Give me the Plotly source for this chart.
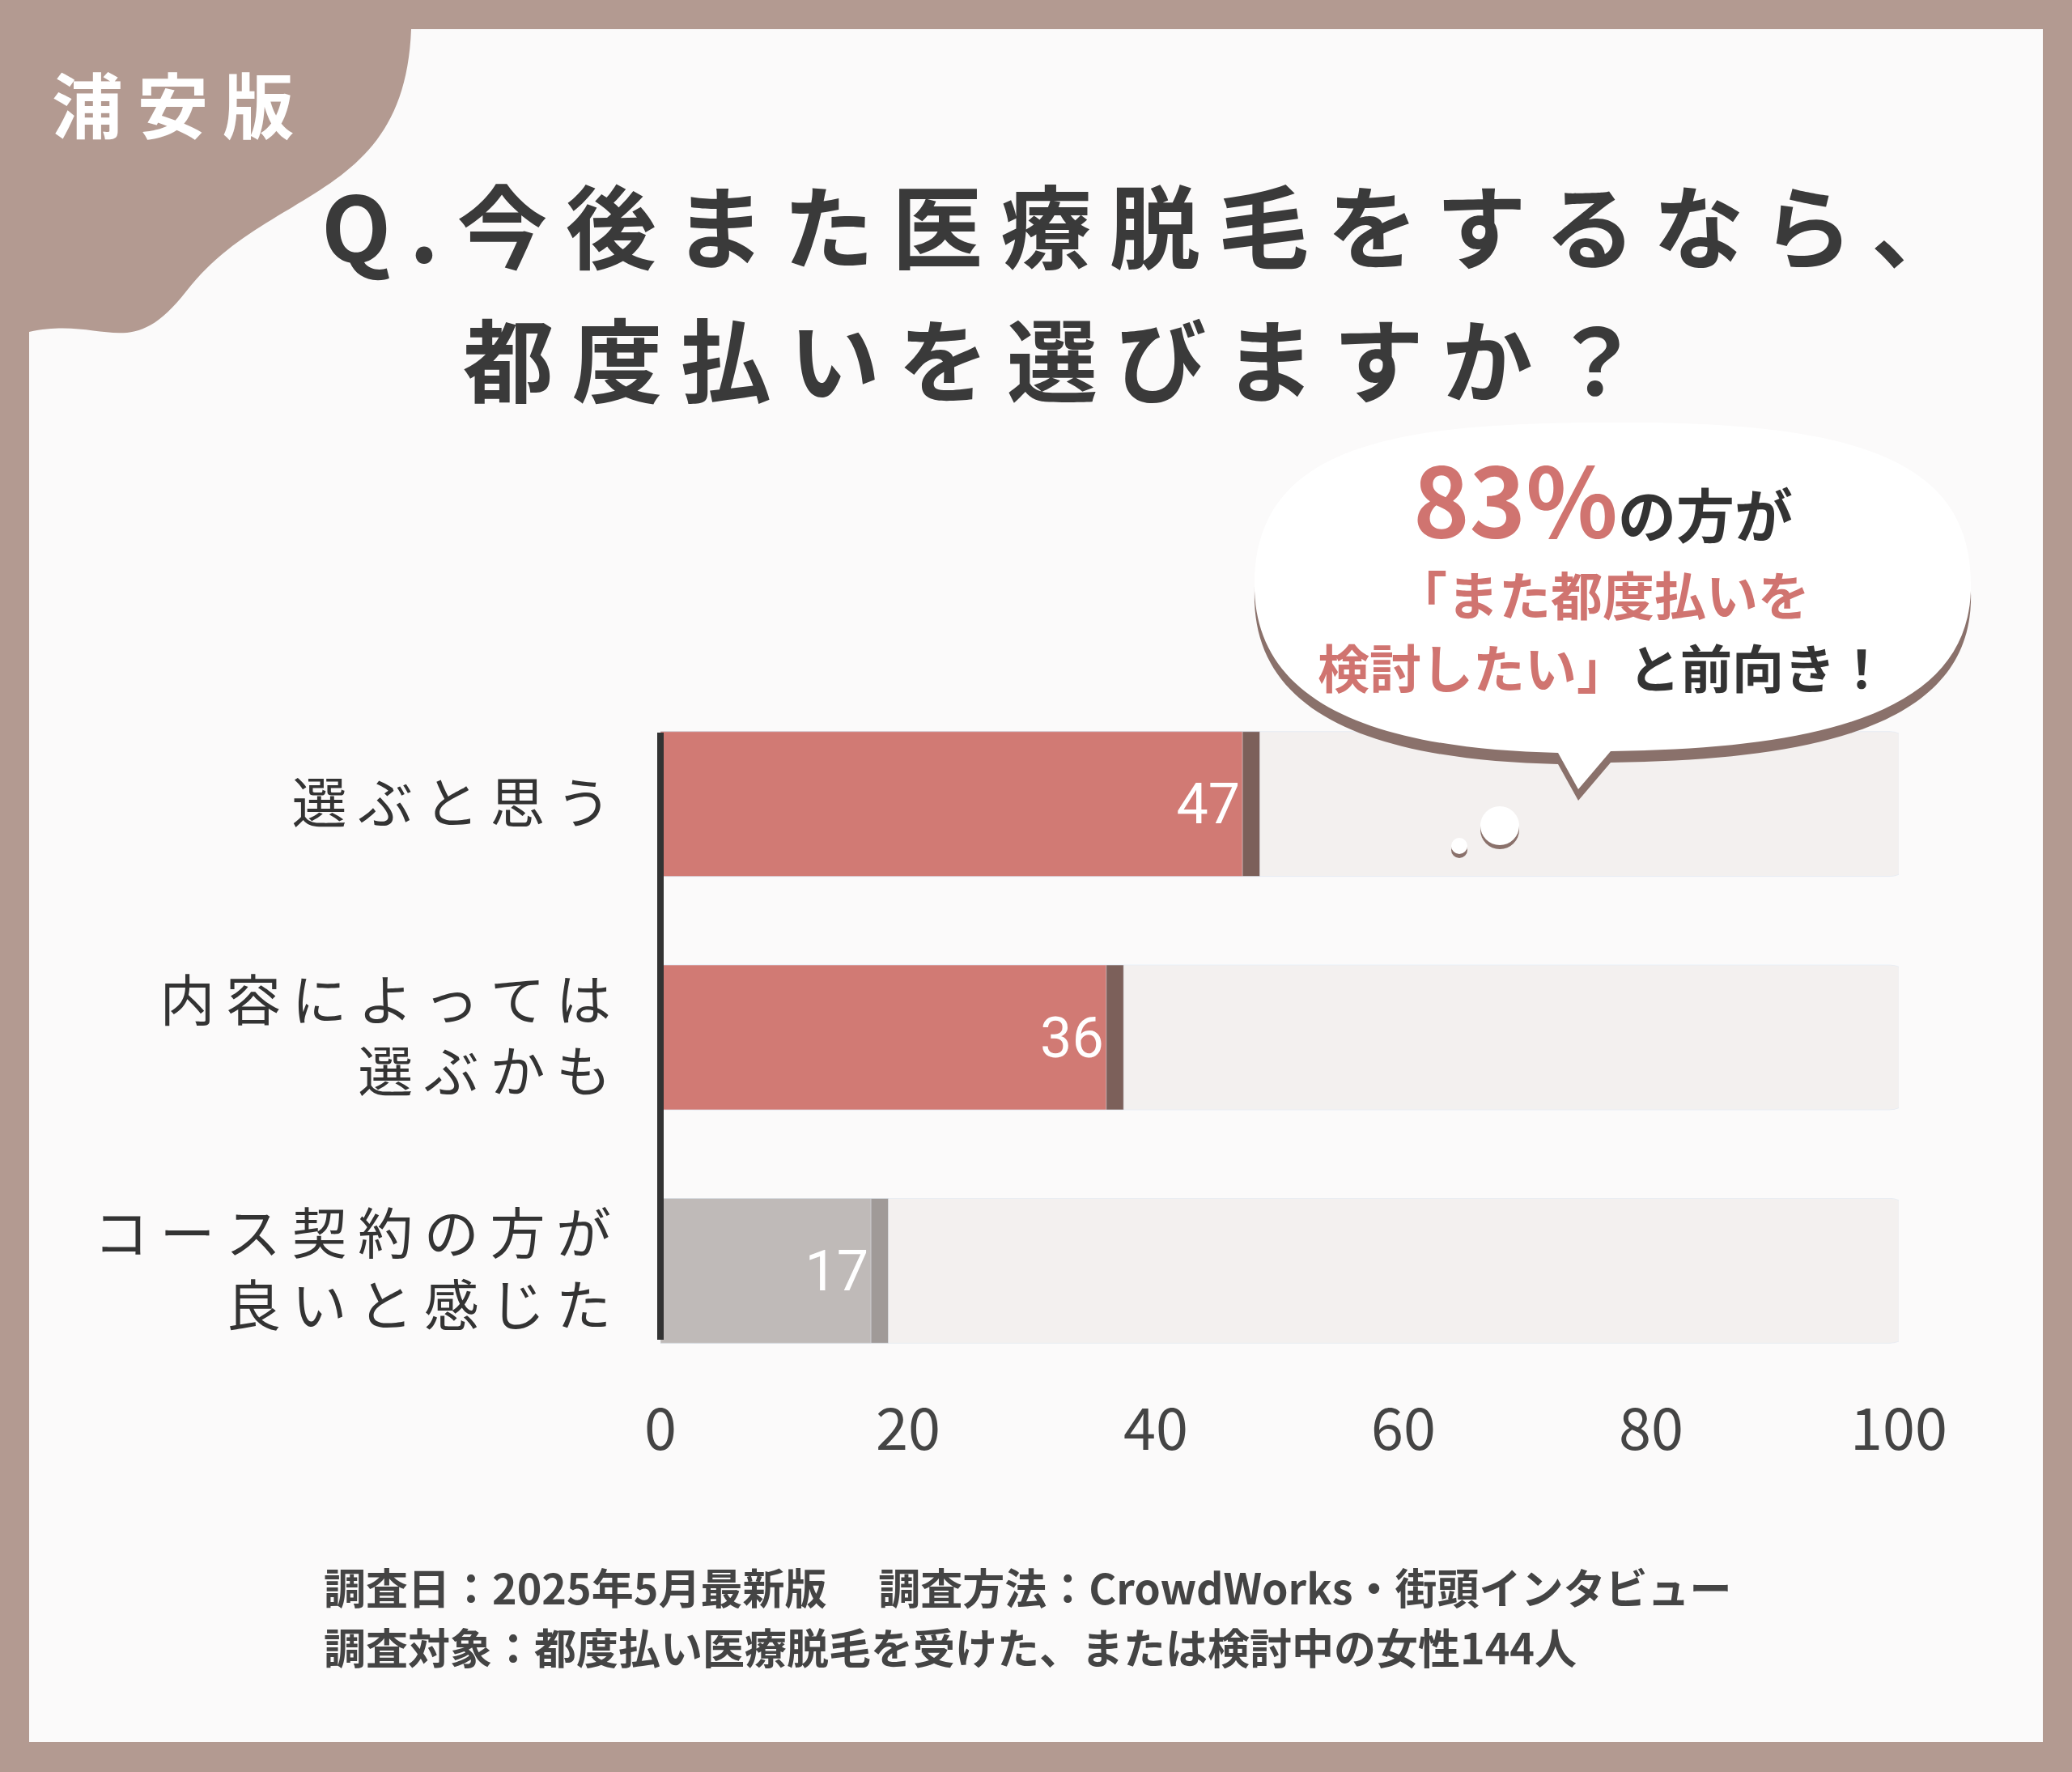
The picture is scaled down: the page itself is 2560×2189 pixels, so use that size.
import plotly.graph_objects as go

sp = "\u2009"
categories = ["選ぶと思う", "内容によっては<br>選ぶかも", "コース契約の方が<br>良いと感じた"]
values = [47, 36, 17]
bar_colors = ["#d17a74", "#d17a74", "#bfbab8"]
shadow_colors = ["#7c605a", "#7c605a", "#a09a98"]
tick_vals = [0, 20, 40, 60, 80, 100]

W, H = 2560, 2189
def px(x): return x / W
def py(y): return 1 - y / H

FONT = "Noto Sans CJK JP"

cats = ["<br>".join(sp.join(part) for part in c.split("<br>")) for c in categories[::-1]]
vals = values[::-1]

fig = go.Figure()
fig.add_trace(go.Bar(y=cats, x=[100] * 3, orientation="h", marker=dict(color="#dcd7d6"),
                     hoverinfo="skip", base=[1] * 3, width=0.62))
fig.add_trace(go.Bar(y=cats, x=[100] * 3, orientation="h", marker=dict(color="#f3f0ef"),
                     hoverinfo="skip", width=0.62))
fig.add_trace(go.Bar(y=cats, x=[v + 1.4 for v in vals], orientation="h",
                     marker=dict(color=shadow_colors[::-1]), hoverinfo="skip", width=0.62))
fig.add_trace(go.Bar(y=cats, x=vals, orientation="h", marker=dict(color=bar_colors[::-1]),
                     text=vals, textposition="inside", insidetextanchor="end",
                     textfont=dict(color="white", size=70, family="Roboto"), width=0.62))

fig.update_layout(
    width=W, height=H, barmode="overlay", showlegend=False, barcornerradius=26,
    paper_bgcolor="#b39a91", plot_bgcolor="rgba(0,0,0,0)",
    margin=dict(l=0, r=0, t=0, b=0),
    xaxis=dict(domain=[px(816), px(2346)], range=[0, 100], tickvals=tick_vals, showgrid=False,
               zeroline=False, tickfont=dict(size=72, color="#444", family=FONT), ticklen=0,
               ticklabelstandoff=4, automargin=False),
    yaxis=dict(domain=[py(1714), py(849)], showgrid=False, ticklen=0, automargin=False,
               tickfont=dict(size=68, color="#333", family=FONT), ticklabelstandoff=60),
)

shapes = [
    dict(type="rect", xref="paper", yref="paper", x0=px(36), x1=px(2524), y0=py(2152), y1=py(36),
         fillcolor="#fbfafa", line_width=0, layer="below"),
    dict(type="path", xref="paper", yref="paper", layer="below", fillcolor="#b39a91", line_width=0,
         path=f"M {px(36)} {py(36)} L {px(508)} {py(36)} C {px(500)} {py(250)} {px(330)} {py(230)} {px(230)} {py(360)} "
              f"C {px(160)} {py(450)} {px(130)} {py(390)} {px(36)} {py(410)} Z"),
    dict(type="line", xref="paper", yref="paper", x0=px(816), x1=px(816), y0=py(1655), y1=py(905),
         line=dict(color="#333", width=8), layer="above"),
]

def bubble(dx, dy, color):
    x0, y0 = 1550 + dx, 730 + dy
    p = f"M {px(x0)} {py(y0)} "
    p += f"C {px(1545+dx)} {py(550+dy)} {px(1720+dx)} {py(522+dy)} {px(1990+dx)} {py(522+dy)} "
    p += f"C {px(2300+dx)} {py(520+dy)} {px(2440+dx)} {py(570+dy)} {px(2435+dx)} {py(730+dy)} "
    p += f"C {px(2430+dx)} {py(880+dy)} {px(2250+dx)} {py(925+dy)} {px(1990+dx)} {py(928+dy)} "
    p += f"L {px(1950+dx)} {py(975+dy)} L {px(1925+dx)} {py(930+dy)} "
    p += f"C {px(1700+dx)} {py(925+dy)} {px(1555+dx)} {py(870+dy)} {px(x0)} {py(y0)} Z"
    return dict(type="path", xref="paper", yref="paper", path=p, fillcolor=color, line_width=0)

shapes.append(bubble(0, 14, "#8a716b"))
shapes.append(bubble(0, 0, "#ffffff"))
for cx, cy, r in [(1853, 1020, 24), (1803, 1045, 10)]:
    shapes.append(dict(type="circle", xref="paper", yref="paper", x0=px(cx - r), x1=px(cx + r),
                       y0=py(cy + r + 5), y1=py(cy - r + 5), fillcolor="#8a716b", line_width=0))
    shapes.append(dict(type="circle", xref="paper", yref="paper", x0=px(cx - r), x1=px(cx + r),
                       y0=py(cy + r), y1=py(cy - r), fillcolor="#ffffff", line_width=0))
fig.update_layout(shapes=shapes)

def note(x, y, text, size, color="#333", anchor="left"):
    fig.add_annotation(x=px(x), y=py(y), xref="paper", yref="paper", text=text, showarrow=False,
                       xanchor=anchor, yanchor="middle", font=dict(family=FONT, size=size, color=color))

note(62, 125, "<b>" + sp.join("浦安版") + "</b>", 88, "#ffffff")
note(395, 275, "<b>" + sp.join("Q.今後また医療脱毛をするなら、") + "</b>", 112, "#3a3a3a")
note(570, 440, "<b>" + sp.join("都度払いを選びますか？") + "</b>", 112, "#3a3a3a")
note(1980, 612, "<b><span style='font-size:118px;color:#d07470'>83%</span>の方が</b>", 72, "#333", "center")
note(1980, 732, "<b>「また都度払いを</b>", 64, "#d07470", "center")
note(1980, 822, "<b><span style='color:#d07470'>検討したい」</span>と前向き！</b>", 64, "#333", "center")
note(398, 1959, "<b>調査日：2025年5月最新版　 調査方法：CrowdWorks・街頭インタビュー</b>", 52, "#444")
note(398, 2033, "<b>調査対象：都度払い医療脱毛を受けた、または検討中の女性144人</b>", 52, "#444")

fig.write_html("out.html", config={"displayModeBar": False})
with open("out.html", encoding="utf-8") as f:
    html = f.read()
html = html.replace("<body>", '<body style="margin:0;overflow:hidden">', 1)
with open("out.html", "w", encoding="utf-8") as f:
    f.write(html)
